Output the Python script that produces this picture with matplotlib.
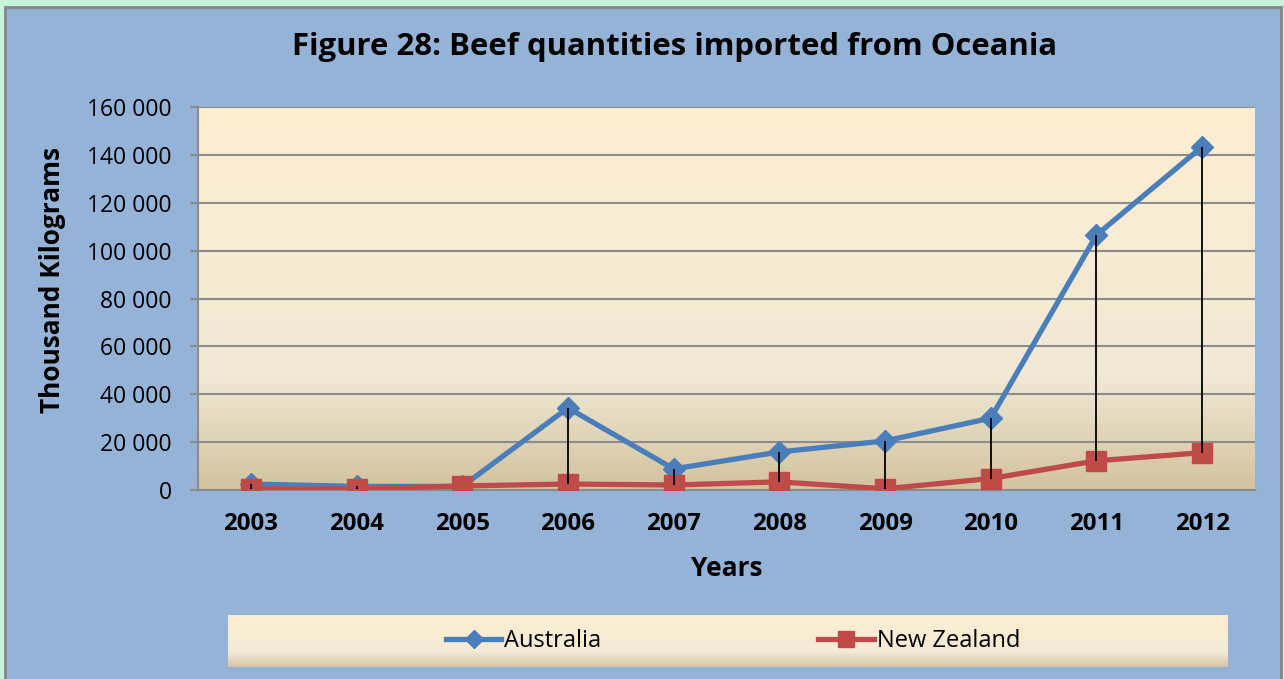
import numpy as np
import matplotlib.pyplot as plt
from matplotlib.patches import Rectangle
from matplotlib.colors import LinearSegmentedColormap
from matplotlib.ticker import FuncFormatter

years = ['2003', '2004', '2005', '2006', '2007', '2008', '2009', '2010', '2011', '2012']
australia = [2500, 1500, 1500, 34300, 8800, 15900, 20500, 30000, 106500, 143400]
new_zealand = [400, 400, 1700, 2500, 2100, 3400, 500, 4800, 12200, 15600]

plt.rcParams['font.family'] = ['Open Sans', 'DejaVu Sans']

W, H = 1284, 679
fig = plt.figure(figsize=(W / 100, H / 100), dpi=100)
fig.patch.set_facecolor('#c8f5d9')

# chart area frame
fig.patches.append(Rectangle((5 / W, -0.05), 1276 / W, 1 - 7 / H + 0.05,
                             transform=fig.transFigure, facecolor='#95b3d7',
                             edgecolor='#868686', lw=2, zorder=-10))

parchment = LinearSegmentedColormap.from_list(
    'parchment', [(0, '#d3c39e'), (0.3, '#f0e9d6'), (1, '#fdeed1')])
grad = np.linspace(0, 1, 256).reshape(-1, 1)

ax = fig.add_axes([198 / W, 1 - 490 / H, 1057 / W, 383 / H])
ax.set_facecolor('none')
ax.imshow(grad, cmap=parchment, aspect='auto', origin='lower',
          extent=[0, 1, 0, 1], transform=ax.transAxes, zorder=0)

x = np.arange(len(years))
ax.yaxis.grid(True, color='#8c8c8c', lw=1.5, zorder=1)
ax.set_axisbelow(True)
ax.plot(x, australia, color='#4a7ebb', lw=3.8, marker='D', markersize=11,
        label='Australia', zorder=3)
ax.plot(x, new_zealand, color='#be4b48', lw=3.8, marker='s', markersize=14,
        label='New Zealand', zorder=3)
# high-low lines
ax.vlines(x, new_zealand, australia, colors='black', lw=1.3, zorder=5)

ax.set_xlim(-0.5, len(years) - 0.5)
ax.set_ylim(0, 160000)
ax.set_yticks(np.arange(0, 160001, 20000))
ax.yaxis.set_major_formatter(FuncFormatter(lambda v, p: f'{int(v):,}'.replace(',', ' ')))
ax.set_xticks(x)
ax.set_xticklabels(years, fontweight='bold')
ax.tick_params(axis='y', length=6, color='#8c8c8c', width=1.5, labelsize=16.5, pad=13)
ax.tick_params(axis='x', length=0, labelsize=17.3, pad=16)
for s in ['top', 'right']:
    ax.spines[s].set_visible(False)
for s in ['left', 'bottom']:
    ax.spines[s].set_color('#8c8c8c')
    ax.spines[s].set_linewidth(1.5)

fig.text(727 / W, 1 - 568 / H, 'Years', ha='center', va='center',
         fontsize=19, fontweight='bold')
fig.text(53 / W, 1 - 280 / H, 'Thousand Kilograms', ha='center', va='center',
         rotation=90, fontsize=18.9, fontweight='bold')
fig.text(675 / W, 1 - 47 / H, 'Figure 28: Beef quantities imported from Oceania',
         ha='center', va='center', fontsize=22.4, fontweight='bold')

# legend box
lax = fig.add_axes([228 / W, 1 - 667 / H, 1000 / W, 52 / H])
lax.imshow(grad, cmap=LinearSegmentedColormap.from_list(
    'leg', [(0, '#d6c7a3'), (0.3, '#f3ebd7'), (1, '#fdeed1')]),
    aspect='auto', origin='lower', extent=[0, 1, 0, 1])
lax.set_xlim(0, 1)
lax.set_ylim(0, 1)
lax.axis('off')
handles, labels = ax.get_legend_handles_labels()
lax.legend(handles, labels, loc='center', bbox_to_anchor=(0.505, 0.50), ncol=2,
           frameon=False, fontsize=17, markerscale=0.85,
           handlelength=2.33, handletextpad=0.13, columnspacing=9.2)

fig.savefig('out.png', dpi=100, facecolor=fig.get_facecolor())
